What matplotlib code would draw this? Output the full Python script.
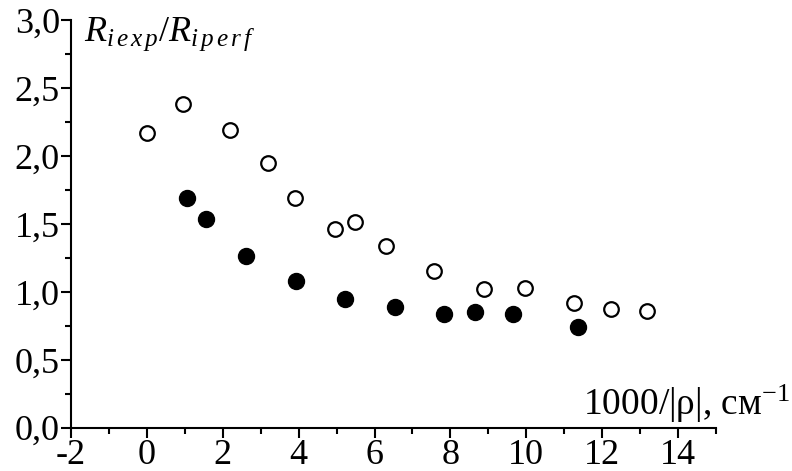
import matplotlib.pyplot as plt
from matplotlib.ticker import MultipleLocator, FuncFormatter

plt.rcParams['font.family'] = ['Liberation Serif', 'DejaVu Serif']
plt.rcParams['mathtext.fontset'] = 'custom'
plt.rcParams['mathtext.rm'] = 'Liberation Serif'
plt.rcParams['mathtext.it'] = 'Liberation Serif:italic'

# open circles
x_open = [0.0, 0.94, 2.19, 3.2, 3.9, 4.96, 5.49, 6.29, 7.58, 8.89, 9.96, 11.26, 12.22, 13.19]
y_open = [2.17, 2.385, 2.19, 1.946, 1.69, 1.46, 1.516, 1.34, 1.156, 1.02, 1.03, 0.92, 0.87, 0.857]

# filled circles
x_fill = [1.05, 1.56, 2.61, 3.93, 5.23, 6.55, 7.84, 8.65, 9.66, 11.37]
y_fill = [1.687, 1.533, 1.264, 1.077, 0.944, 0.887, 0.833, 0.85, 0.833, 0.739]

fig = plt.figure(figsize=(7.92, 4.71), dpi=100)
ax = fig.add_axes([71 / 792, 1 - 427.7 / 471, (716 - 71) / 792, (427.7 - 20) / 471])

ax.plot(x_open, y_open, 'o', ms=10.5, mfc='white', mec='black', mew=1.6, clip_on=False)
ax.plot(x_fill, y_fill, 'o', ms=11.5, mfc='black', mec='black', clip_on=False)

ax.set_xlim(-2, 15)
ax.set_ylim(0, 3.0)
for s in ['top', 'right']:
    ax.spines[s].set_visible(False)
for s in ['left', 'bottom']:
    ax.spines[s].set_linewidth(1.5)

ax.xaxis.set_major_locator(MultipleLocator(2))
ax.xaxis.set_minor_locator(MultipleLocator(1))
ax.yaxis.set_major_locator(MultipleLocator(0.5))
ax.yaxis.set_minor_locator(MultipleLocator(0.25))
ax.yaxis.set_major_formatter(FuncFormatter(lambda v, p: f"{v:.1f}".replace('.', ',')))
ax.xaxis.set_major_formatter(FuncFormatter(lambda v, p: f"{int(round(v))}".replace('\u2212', '-')))
ax.tick_params(which='major', length=7, width=1.5, labelsize=26, pad=1)
ax.tick_params(which='minor', length=4, width=1.5)

fig.text(84 / 792, 1 - 41 / 471, r'$R_{i\,e\,x\,p}/R_{i\,p\,e\,r\,f}$', fontsize=26,
         va='baseline', ha='left')
fig.text(790 / 792, 1 - 415 / 471, '1000/|\u03c1|, см$^{\\mathrm{-1}}$', fontsize=27,
         va='baseline', ha='right')

fig.savefig('out.png', dpi=100)
